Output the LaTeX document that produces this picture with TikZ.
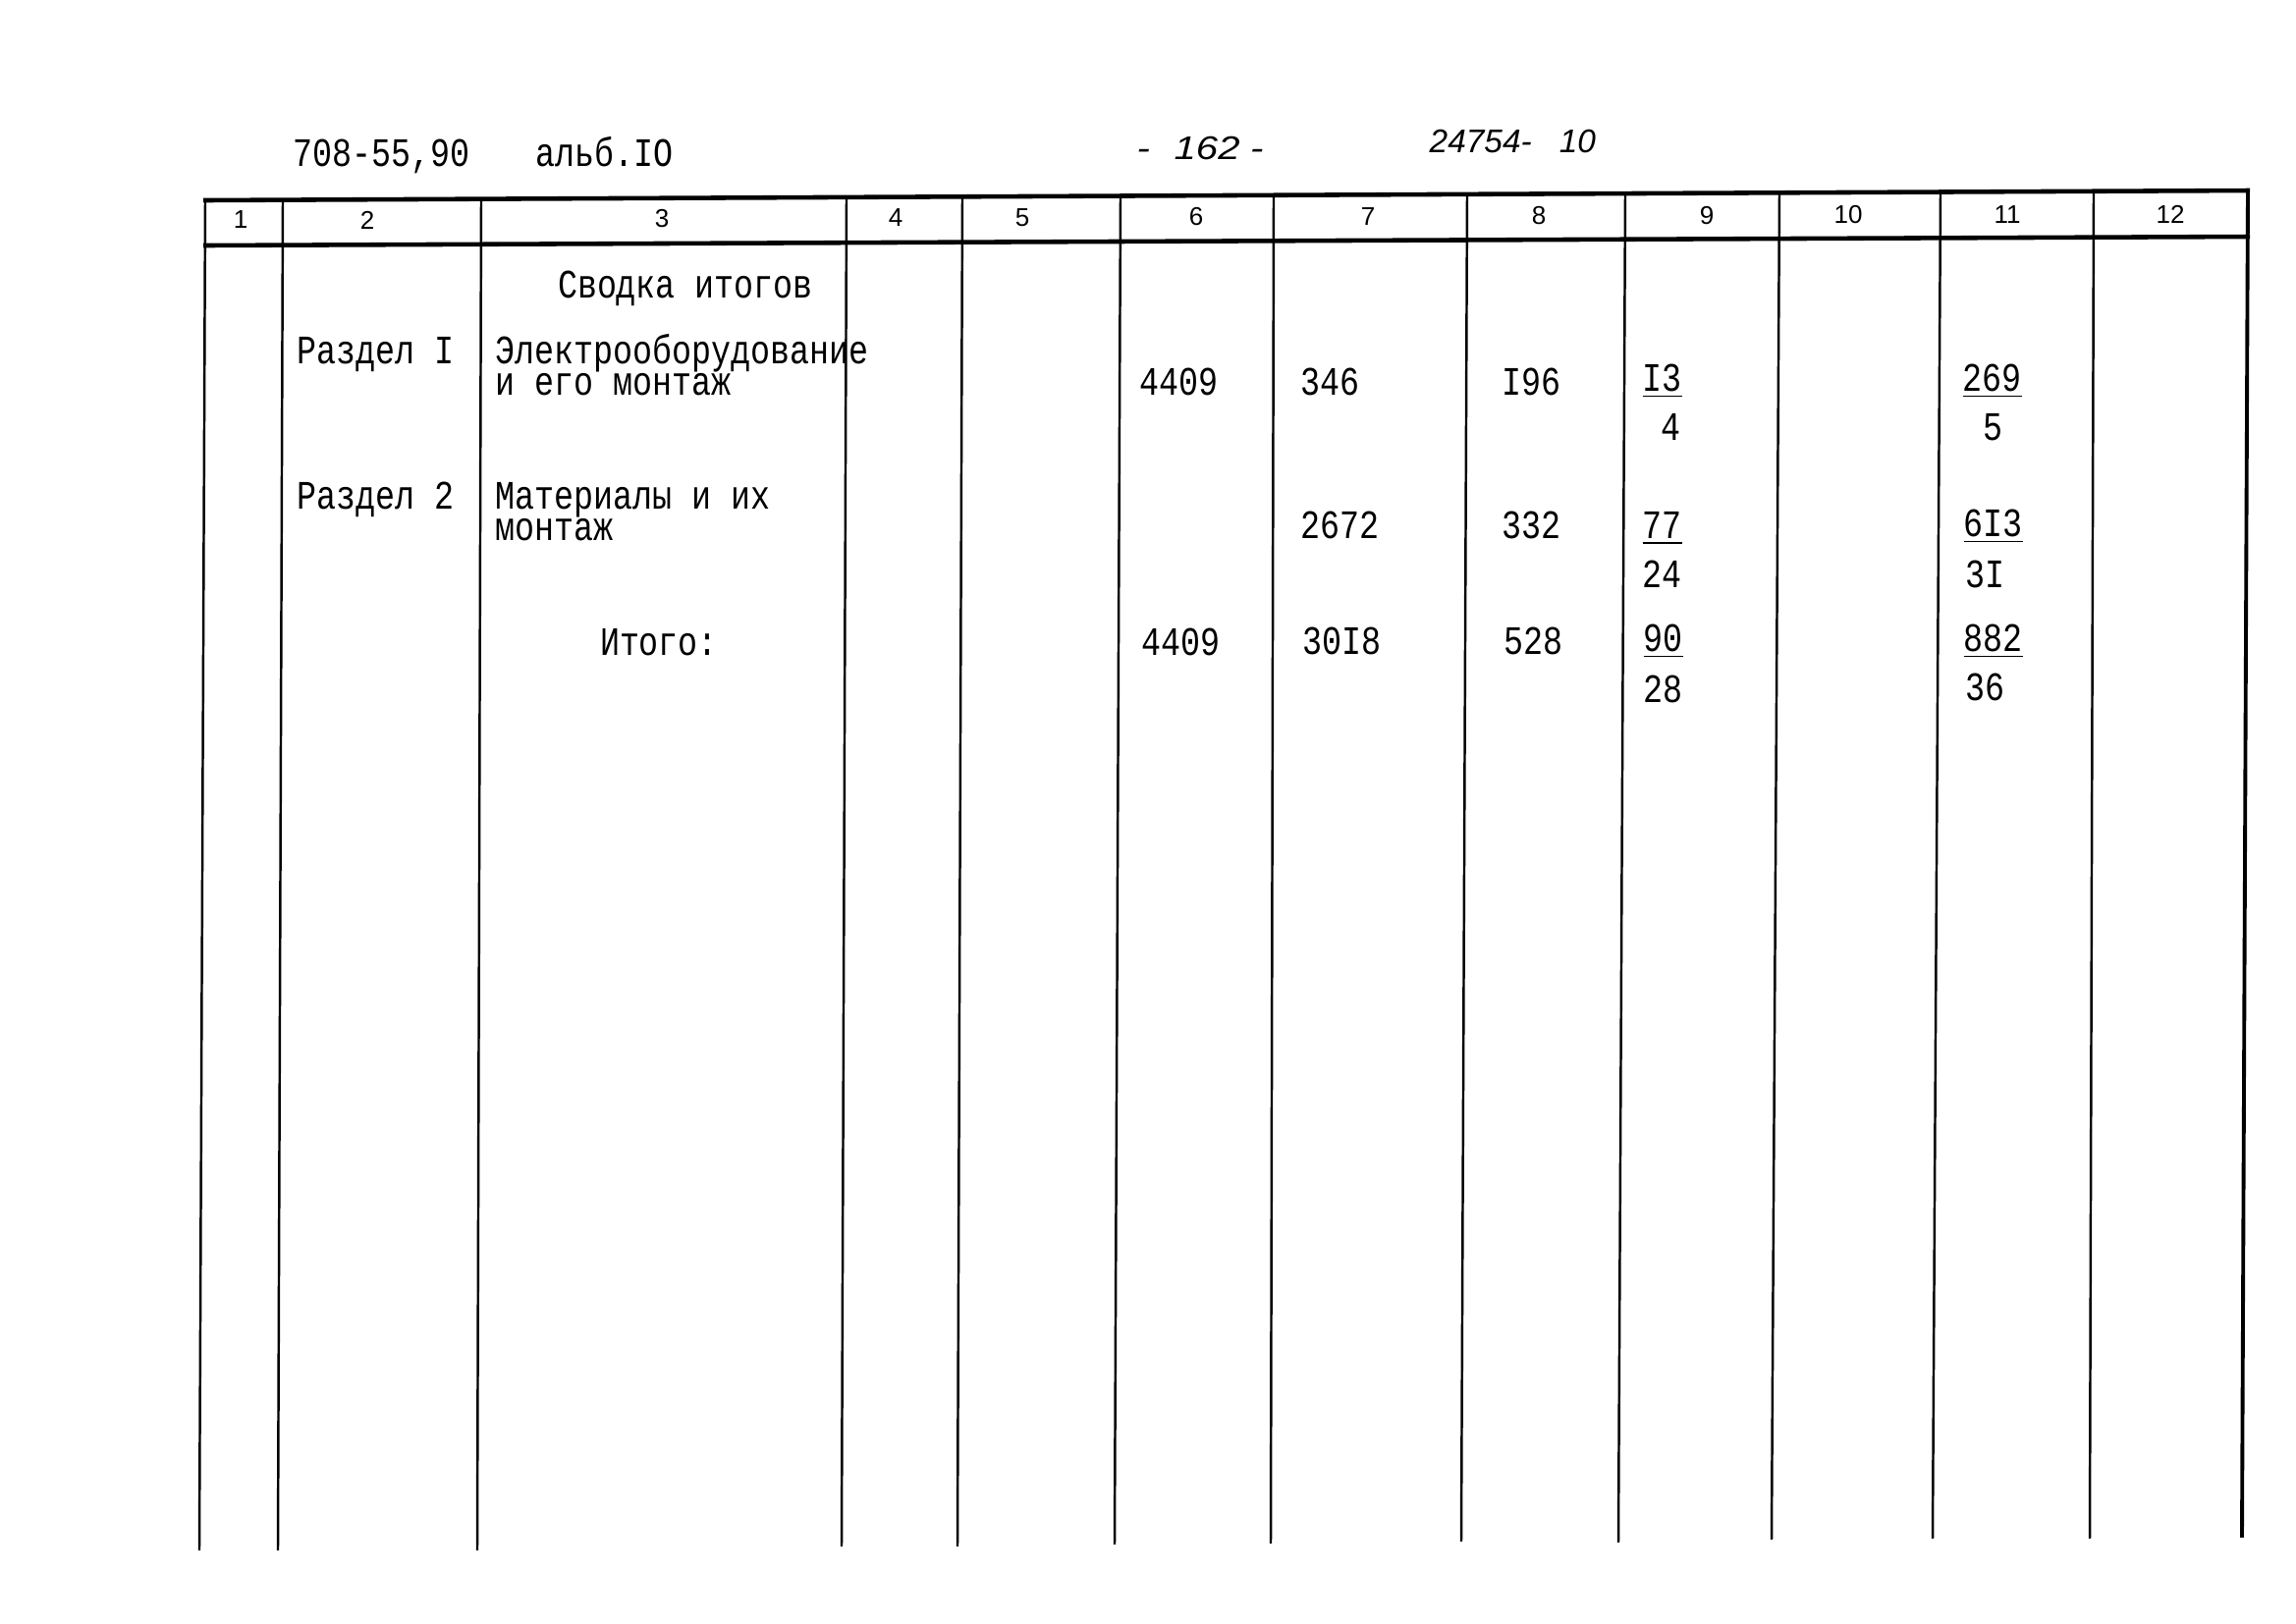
\documentclass[tikz,border=0pt]{standalone}
\usepackage{fontspec}
\setmainfont{Liberation Mono}[FakeStretch=0.81]
\newfontfamily\formfont{Liberation Sans}
\newfontfamily\handfont{Liberation Sans}[FakeStretch=1.2]
\usetikzlibrary{positioning}
\tikzset{
	txt/.style={anchor=base west,inner sep=0pt,font=\fontsize{11.7}{9.1}\selectfont},
	ctxt/.style={txt,anchor=base},
	hdr/.style={inner sep=0pt,font=\formfont\fontsize{7.4}{8}\selectfont},
	hand/.style={anchor=base west,inner sep=0pt,font=\formfont\itshape\fontsize{9.5}{11}\selectfont},
	rule/.style={line width=1.3pt},
	col/.style={line width=0.7pt}
}

\begin{document}
\begin{tikzpicture}[x=0.01cm,y=-0.01cm]
            \fill[white] (0,0) rectangle (2338,1653);
            \useasboundingbox (0,0) rectangle (2338,1653);
            % page head
            \node[txt] (doc) at (298,169) {708-55,90};
            \node[txt] (alb) at (545,169) {альб.IO};
            \node[anchor=base west,inner sep=0pt,font=\handfont\itshape\fontsize{9.5}{11}\selectfont] (page) at (1157,162) {-\hspace{7pt}162\hspace{3pt}-};
            \node[hand] (reg) at (1455,155) {24754-\hspace{8pt}10};
            % frame
            \draw[rule] (207,204) -- (2291,194);
            \draw[rule] (207,250) -- (2291,241);
            \foreach \xt/\yt/\xb/\yb in {209/204/203/1579, 288/204/283/1579, 490/203/486/1579,
                862/201/857/1575, 980/200/975/1575, 1141/200/1135/1573, 1297/199/1294/1572,
                1494/198/1488/1570, 1655/197/1648/1571, 1812/196/1804/1568, 1976/196/1968/1567,
                2132/195/2128/1567}
                \draw[col] (\xt,\yt) -- (\xb,\yb);
            \draw[line width=1.1pt] (2289,192) -- (2283,1566);
            \foreach \n/\x/\y in {1/245/224, 2/374/224, 3/674/223, 4/912/222, 5/1041/222, 6/1218/221,
                7/1393/221, 8/1567/220, 9/1738/220, 10/1882/219, 11/2044/219, 12/2210/218}
                \node[hdr] (h\n) at (\x,\y) {\n};
            % column 2 and 3
            \node[ctxt] (title) at (698,303) {Сводка итогов};
            \node[txt] (sec1) at (302,370) {Раздел I};
            \node[txt,align=left] (sec1txt) at (504,402) {Электрооборудование\\и его монтаж};
            \node[txt] (sec2) at (302,518) {Раздел 2};
            \node[txt,align=left] (sec2txt) at (504,550) {Материалы и их\\монтаж};
            \node[ctxt] (tot) at (671,667) {Итого:};
            % figures
            \node[txt] (r1c6) at (1160,402) {4409};
            \node[txt] (r1c7) at (1324,402) {346};
            \node[txt] (r1c8) at (1529,402) {I96};
            \node[txt] (r1c9) at (1672,398) {\underline{I3}};
            \node[txt] (r1c9b) at (1691,448) {4};
            \node[txt] (r1c11) at (1998,398) {\underline{269}};
            \node[txt] (r1c11b) at (2019,448) {5};
            \node[txt] (r2c7) at (1324,548) {2672};
            \node[txt] (r2c8) at (1529,548) {332};
            \node[txt] (r2c9) at (1672,548) {\underline{77}};
            \node[txt] (r2c9b) at (1672,598) {24};
            \node[txt] (r2c11) at (1999,546) {\underline{6I3}};
            \node[txt] (r2c11b) at (2001,598) {3I};
            \node[txt] (r3c6) at (1162,667) {4409};
            \node[txt] (r3c7) at (1326,666) {30I8};
            \node[txt] (r3c8) at (1531,666) {528};
            \node[txt] (r3c9) at (1673,663) {\underline{90}};
            \node[txt] (r3c9b) at (1673,715) {28};
            \node[txt] (r3c11) at (1999,663) {\underline{882}};
            \node[txt] (r3c11b) at (2001,713) {36};
        \end{tikzpicture}
\end{document}
